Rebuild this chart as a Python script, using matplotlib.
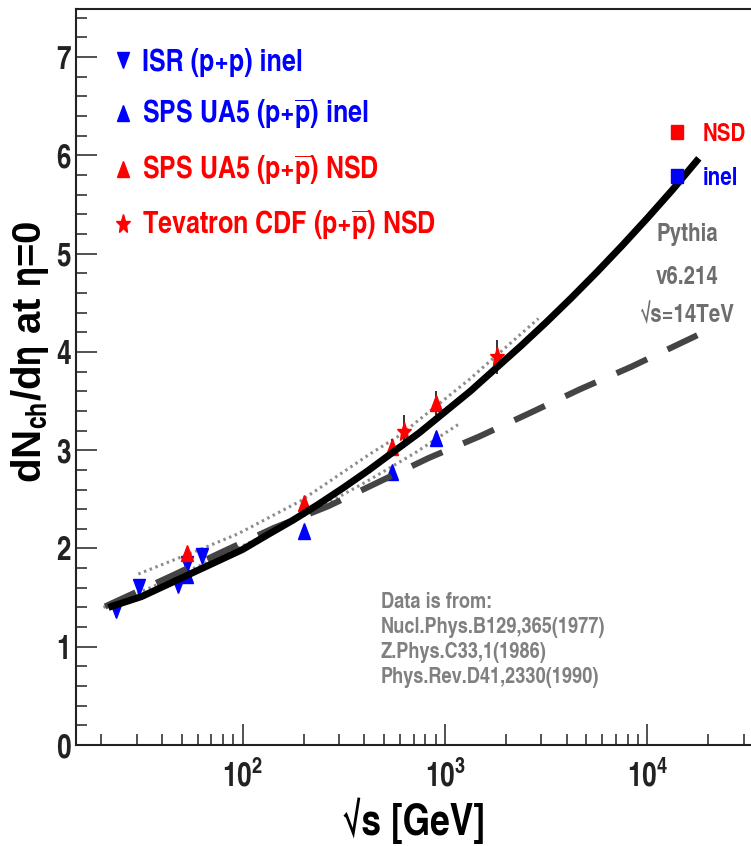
import math
import matplotlib
matplotlib.use("Agg")
import matplotlib.pyplot as plt
from matplotlib.lines import Line2D
from matplotlib.markers import MarkerStyle
from matplotlib.transforms import Affine2D
from matplotlib.ticker import LogLocator, MultipleLocator, FuncFormatter, NullFormatter

# ISR (p+p) inelastic
isr_sqrts = [23.6, 30.8, 48.0, 53.0, 62.8]
isr_dndeta = [1.37, 1.61, 1.63, 1.84, 1.92]

# SPS UA5 (p+pbar), inelastic and NSD
ua5_sqrts = [53.0, 200.0, 546.0, 900.0]
ua5_inel = [1.73, 2.18, 2.78, 3.12]
ua5_nsd = [1.95, 2.46, 3.03, 3.48]
ua5_nsd_err = [0.0, 0.0, 0.08, 0.12]

# Tevatron CDF (p+pbar) NSD
cdf_sqrts = [630.0, 1800.0]
cdf_dndeta = [3.19, 3.95]
cdf_err = [0.17, 0.17]

# curves
solid_sqrts = [21.7, 31.6, 42.2, 56.2, 75.0, 100.0, 133.0, 178.0, 237.0, 316.0, 422.0, 562.0,
               750.0, 1000.0, 1334.0, 1778.0, 2371.0, 3162.0, 4217.0, 5623.0, 7499.0, 10000.0,
               13335.0, 18000.0]
solid_dndeta = [1.40, 1.51, 1.63, 1.75, 1.87, 1.99, 2.14, 2.29, 2.45, 2.62, 2.80, 2.99,
                3.18, 3.39, 3.60, 3.83, 4.06, 4.30, 4.55, 4.81, 5.08, 5.36, 5.65, 5.97]

dashed_sqrts = [20.9, 45.5, 80.2, 143.0, 265.0, 830.0, 1480.0, 2640.0, 4650.0, 8360.0, 17700.0]
dashed_dndeta = [1.41, 1.73, 1.97, 2.21, 2.43, 2.92, 3.14, 3.38, 3.62, 3.85, 4.17]

dotted_nsd_sqrts = [30.5, 61.7, 95.0, 192.0, 425.0, 597.0, 1320.0, 2900.0]
dotted_nsd_dndeta = [1.74, 1.99, 2.15, 2.48, 2.96, 3.15, 3.72, 4.34]

dotted_inel_sqrts = [20.5, 39.8, 79.4, 131.0, 232.0, 409.0, 708.0, 1160.0]
dotted_inel_dndeta = [1.40, 1.65, 1.93, 2.14, 2.40, 2.68, 2.97, 3.26]

W, H = 751, 846
NARROW = ['TeX Gyre Heros Cn', 'Liberation Sans Narrow', 'Liberation Sans', 'DejaVu Sans']

plt.rcParams['font.family'] = NARROW
plt.rcParams['font.weight'] = 'bold'
plt.rcParams['mathtext.fontset'] = 'custom'
for key in ['rm', 'bf', 'it', 'sf']:
    plt.rcParams['mathtext.' + key] = 'TeX Gyre Heros Cn:bold'
plt.rcParams['mathtext.default'] = 'bf'


def fx(px):
    return px / W


def fy(py):
    return 1 - py / H


# ROOT canvas was squeezed sideways, so markers are a bit narrow
squeeze = Affine2D().scale(0.75, 1.0)
tri_up = MarkerStyle('^', transform=squeeze)
tri_down = MarkerStyle('v', transform=squeeze)
star = MarkerStyle('*', transform=squeeze)
square = MarkerStyle('s', transform=Affine2D().scale(0.8, 1.0))

fig = plt.figure(figsize=(W / 100, H / 100), dpi=100)
ax = fig.add_axes([fx(76), fy(745), 1 - fx(76), (745 - 9) / H])

ax.plot(dotted_nsd_sqrts, dotted_nsd_dndeta, color='#8c8c8c', lw=2.2, dashes=(0.8, 1.2), zorder=2)
ax.plot(dotted_inel_sqrts, dotted_inel_dndeta, color='#8c8c8c', lw=2.2, dashes=(0.8, 1.2), zorder=2)

ax.errorbar(ua5_sqrts, ua5_nsd, yerr=ua5_nsd_err, fmt='none', ecolor='#333333', elinewidth=1.4, capsize=0, zorder=2.5)
ax.errorbar(cdf_sqrts, cdf_dndeta, yerr=cdf_err, fmt='none', ecolor='#333333', elinewidth=1.4, capsize=0, zorder=2.5)

h_isr, = ax.plot(isr_sqrts, isr_dndeta, ls='none', marker=tri_down, ms=11.5, color='blue', mec='blue', zorder=3)
h_ua5i, = ax.plot(ua5_sqrts, ua5_inel, ls='none', marker=tri_up, ms=11.5, color='blue', mec='blue', zorder=3)
h_ua5n, = ax.plot(ua5_sqrts, ua5_nsd, ls='none', marker=tri_up, ms=11.5, color='red', mec='red', zorder=3)
h_cdf, = ax.plot(cdf_sqrts, cdf_dndeta, ls='none', marker=star, ms=14, color='red', mec='red', zorder=3)

ax.plot(dashed_sqrts, dashed_dndeta, color='#444444', lw=4.4, dashes=(5.5, 3.7),
        dash_capstyle='butt', zorder=4)
ax.plot(solid_sqrts, solid_dndeta, color='black', lw=5, solid_capstyle='butt',
        solid_joinstyle='round', zorder=5)

ax.set_xscale('log')
ax.set_xlim(15, 3.26e4)
ax.set_ylim(0, 7.49)
ax.xaxis.set_major_locator(LogLocator(base=10, numticks=10))
ax.xaxis.set_minor_locator(LogLocator(base=10, subs=range(2, 10), numticks=20))
ax.xaxis.set_minor_formatter(NullFormatter())
ax.xaxis.set_major_formatter(FuncFormatter(lambda v, p: r'$10^{%d}$' % round(math.log10(v))))
ax.yaxis.set_major_locator(MultipleLocator(1))
ax.yaxis.set_minor_locator(MultipleLocator(0.2))

ax.tick_params(which='both', direction='in', top=False, right=False, width=1.1, colors='#222222')
ax.tick_params(which='major', length=15)
ax.tick_params(which='minor', length=8)
ax.tick_params(axis='y', labelsize=23, pad=4)
ax.tick_params(axis='x', labelsize=23, pad=11)
for side in ['left', 'bottom', 'top']:
    ax.spines[side].set_linewidth(1.5)
    ax.spines[side].set_color('#222222')
ax.spines['right'].set_visible(False)

fig.text(fx(413), fy(821), '√s [GeV]', fontsize=31, ha='center', va='center')
fig.text(fx(30), fy(352), r'dN$_{ch}$/d$\eta$ at $\eta$=0', fontsize=29, rotation=90,
         ha='center', va='center', family=['Liberation Sans', 'DejaVu Sans'])

leg1 = ax.legend([h_isr, h_ua5i, h_ua5n, h_cdf],
                 ['ISR (p+p) inel', r'SPS UA5 (p+$\overline{p}$) inel',
                  r'SPS UA5 (p+$\overline{p}$) NSD', r'Tevatron CDF (p+$\overline{p}$) NSD'],
                 loc='upper left', bbox_to_anchor=(fx(114), fy(48)), bbox_transform=fig.transFigure,
                 frameon=False, fontsize=22, numpoints=1, handlelength=0.6, handletextpad=0.32,
                 labelspacing=0.66, borderpad=0, borderaxespad=0,
                 labelcolor=['blue', 'blue', 'red', 'red'])
ax.add_artist(leg1)

nsd_proxy = Line2D([], [], ls='none', marker=square, ms=10, color='red')
inel_proxy = Line2D([], [], ls='none', marker=square, ms=10, color='blue')
ax.legend([nsd_proxy, inel_proxy], ['NSD', 'inel'], loc='upper left',
          bbox_to_anchor=(fx(669), fy(123)), bbox_transform=fig.transFigure,
          frameon=False, fontsize=18, numpoints=1, handlelength=0.6, handletextpad=0.74,
          labelspacing=0.85, borderpad=0, borderaxespad=0, labelcolor=['red', 'blue'])

for txt, py in [('Pythia', 235), ('v6.214', 277), ('√s=14TeV', 315)]:
    fig.text(fx(687), fy(py), txt, fontsize=18, color='#6e6e6e', ha='center', va='center')

refs = ['Data is from:', 'Nucl.Phys.B129,365(1977)', 'Z.Phys.C33,1(1986)', 'Phys.Rev.D41,2330(1990)']
for i, txt in enumerate(refs):
    fig.text(fx(381), fy(602 + 25 * i), txt, fontsize=16, color='#808080', ha='left', va='center')

fig.savefig('out.png', dpi=100)
